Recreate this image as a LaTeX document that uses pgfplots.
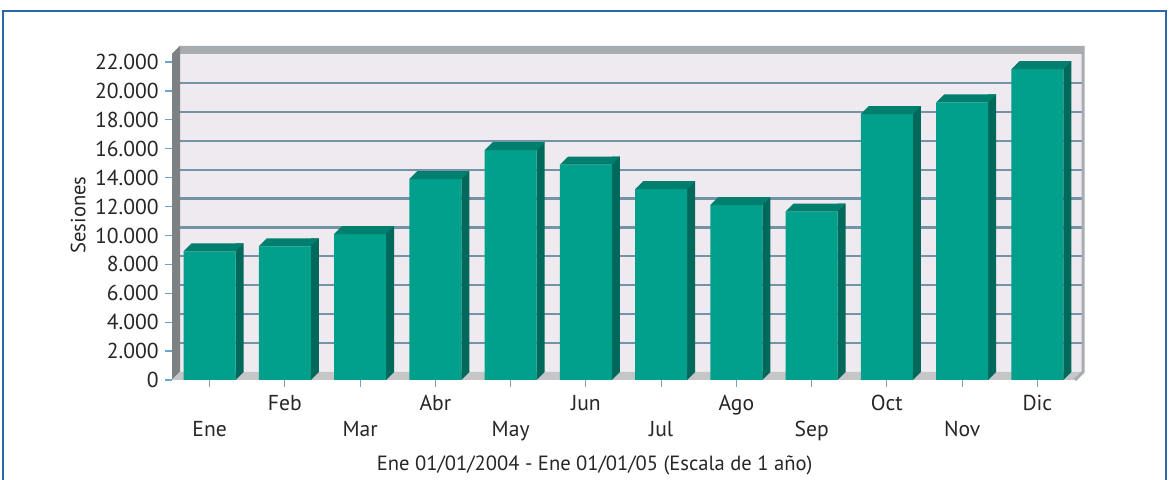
\documentclass[border=0pt]{standalone}
\usepackage{fontspec}
\setmainfont{PT Sans}
\usepackage{pgfplots}
\usepackage{pgfplotstable}
\pgfplotsset{compat=1.18}
\definecolor{barfront}{HTML}{00A08C}
\definecolor{bartopc}{HTML}{007F6E}
\definecolor{barside}{HTML}{00695B}
\definecolor{wallc}{HTML}{EFEAF0}
\definecolor{gridc}{HTML}{7394A6}
\definecolor{sidewall}{HTML}{7D8184}
\definecolor{topwall}{HTML}{A8ACB0}
\definecolor{floorc}{HTML}{C4C6C8}
\definecolor{tickc}{HTML}{6FA4CF}
\definecolor{framec}{HTML}{2A66A8}
\pgfdeclareplotmark{bartopmark}{%
  \pgfpathmoveto{\pgfpoint{-13pt}{0pt}}%
  \pgfpathlineto{\pgfpoint{13pt}{0pt}}%
  \pgfpathlineto{\pgfpoint{17pt}{4pt}}%
  \pgfpathlineto{\pgfpoint{-9pt}{4pt}}%
  \pgfpathclose
  \pgfusepathqfill}
\pgfdeclareplotmark{sidefoot}{%
  \pgfpathmoveto{\pgfpoint{13pt}{0pt}}%
  \pgfpathlineto{\pgfpoint{17pt}{4pt}}%
  \pgfpathlineto{\pgfpoint{13pt}{4pt}}%
  \pgfpathclose
  \pgfusepathqfill}
\newcommand\lowl[1]{\raisebox{-13pt}{#1}}
\pgfplotstableread{
x v
0 8900
1 9250
2 10100
3 13900
4 15900
5 14900
6 13200
7 12100
8 11650
9 18400
10 19200
11 21500
}\datatable
\begin{document}
\begin{tikzpicture}
\path[use as bounding box] (0,0) rectangle (585pt,240pt);
\draw[framec, line width=1pt] (1.5pt,-3pt) -- (1.5pt,234.5pt) -- (583pt,234.5pt) -- (583pt,-3pt);
\begin{axis}[
  at={(86pt,50pt)}, anchor=south west,
  scale only axis, width=451.5pt, height=159pt,
  xmin=-0.5, xmax=11.5, ymin=0, ymax=22000,
  clip=false,
  axis line style={draw=none},
  ytick={0,2000,4000,6000,8000,10000,12000,14000,16000,18000,20000,22000},
  xtick={0,1,2,3,4,5,6,7,8,9,10,11},
  xticklabels={\lowl{Ene},Feb,\lowl{Mar},Abr,\lowl{May},Jun,\lowl{Jul},Ago,\lowl{Sep},Oct,\lowl{Nov},Dic},
  xtick pos=bottom, ytick pos=left,
  tick align=outside, major tick length=3.5pt,
  tick style={tickc, line width=0.6pt},
  scaled y ticks=false,
  /pgf/number format/1000 sep={.},
  /pgf/number format/assume math mode=true,
  tick label style={font=\fontsize{10.8}{12}\selectfont, text=black!85},
  yticklabel style={anchor=east, inner sep=0pt, xshift=-3pt},
  xticklabel style={anchor=base, inner sep=0pt, yshift=-12pt},
  label style={font=\fontsize{10.3}{12}\selectfont, text=black!85},
  xlabel={Ene 01/01/2004 - Ene 01/01/05 (Escala de 1 año)},
  xlabel style={at={(axis description cs:0.468,0)}, anchor=base, inner sep=0pt, yshift=-45.5pt},
  ylabel={Sesiones},
  ylabel style={at={(axis description cs:-0.104,0.519)}, anchor=center},
]
\fill[wallc] ([shift={(4pt,4pt)}]axis cs:-0.5,0) rectangle ([shift={(4pt,4pt)}]axis cs:11.5,22000);
\pgfplotsinvokeforeach{2000,4000,6000,8000,10000,12000,14000,16000,18000,20000}{
  \draw[gridc, line width=1.1pt] ([shift={(4pt,4pt)}]axis cs:-0.5,#1) -- ([shift={(4pt,4pt)}]axis cs:11.5,#1);
}
\fill[topwall] (axis cs:-0.5,22000) -- ([shift={(4pt,4pt)}]axis cs:-0.5,22000) -- ([shift={(4pt,4pt)}]axis cs:11.5,22000) -- ([shift={(4pt,8pt)}]axis cs:11.5,22000) -- ([shift={(4pt,8pt)}]axis cs:-0.5,22000) -- ([shift={(0pt,4pt)}]axis cs:-0.5,22000) -- cycle;
\fill[sidewall] (axis cs:-0.5,0) -- ([shift={(4pt,4pt)}]axis cs:-0.5,0) -- ([shift={(4pt,8pt)}]axis cs:-0.5,22000) -- ([shift={(0pt,4pt)}]axis cs:-0.5,22000) -- cycle;
\fill[floorc] (axis cs:-0.5,0) -- (axis cs:11.5,0) -- ([shift={(4pt,4pt)}]axis cs:11.5,0) -- ([shift={(4pt,4pt)}]axis cs:-0.5,0) -- cycle;
\draw[topwall, line width=1.5pt] (axis cs:11.5,0) -- ([shift={(4pt,4pt)}]axis cs:11.5,0) -- ([shift={(4pt,8pt)}]axis cs:11.5,22000);
\addplot[ybar, bar width=4pt, bar shift=15pt, fill=barside, draw=none, yshift=4pt] table[x=x,y=v]{\datatable};
\addplot[only marks, mark=sidefoot, mark options={fill=barside, draw=none}] table[x=x, y expr=0]{\datatable};
\addplot[ybar, bar width=26pt, bar shift=0pt, fill=barfront, draw=none] table[x=x,y=v]{\datatable};
\addplot[only marks, mark=bartopmark, mark options={fill=bartopc, draw=none}] table[x=x,y=v]{\datatable};
\end{axis}
\end{tikzpicture}
\end{document}
